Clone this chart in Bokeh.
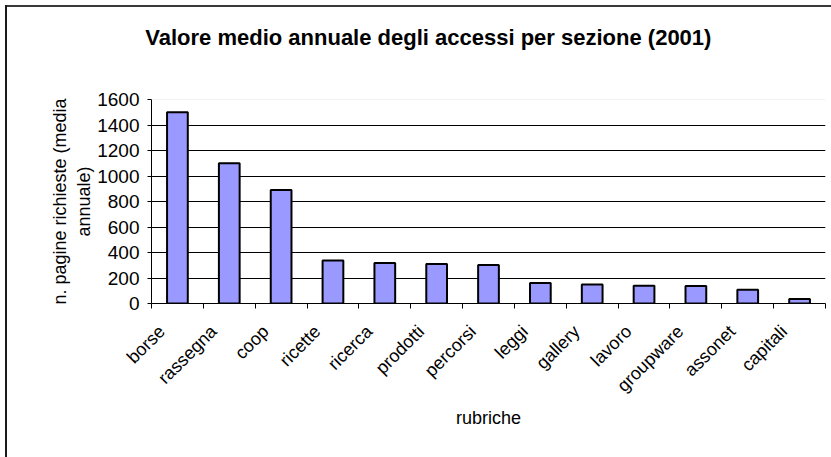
from math import pi
from bokeh.plotting import figure
from bokeh.models import Range1d, FixedTicker, Span, LinearAxis
from bokeh.embed import file_html
from bokeh.resources import INLINE

categories = ["borse", "rassegna", "coop", "ricette", "ricerca", "prodotti", "percorsi",
              "leggi", "gallery", "lavoro", "groupware", "assonet", "capitali"]
values = [1500, 1100, 890, 338, 318, 310, 302, 160, 150, 139, 137, 108, 35]
y_ticks = [0, 200, 400, 600, 800, 1000, 1200, 1400, 1600]

title_text = "Valore medio annuale degli accessi per sezione (2001)"
x_title = "rubriche"
y_title_line1 = "n. pagine richieste (media"
y_title_line2 = "annuale)"

FONT = "Liberation Sans"
n = len(categories)
xs = [i + 0.5 for i in range(n)]
title_pos = 5.34   # horizontal centre of the chart title, in category widths

W, H = 831, 457
p = figure(width=W, height=H, output_backend="svg", toolbar_location=None,
           x_range=Range1d(0, n), y_range=Range1d(0, 1600),
           min_border_left=151, min_border_right=6, min_border_top=99, min_border_bottom=154)
p.title.visible = False
p.outline_line_color = None
p.background_fill_color = "white"
p.border_fill_color = None
p.styles = {
    "background-color": "white",
    "background-image": "linear-gradient(#1a1a1a, #1a1a1a), linear-gradient(#3a3a3a, #3a3a3a)",
    "background-size": "2px 100%, 100% 2px",
    "background-position": "5px 5px, 5px 5px",
    "background-repeat": "no-repeat",
}

xax = p.below[0]
yax = p.left[0]

# chart title, drawn in the panel above the plot area
top_ax = LinearAxis(ticker=FixedTicker(ticks=[title_pos]),
                    major_label_overrides={title_pos: title_text})
top_ax.axis_line_color = None
top_ax.major_tick_line_color = None
top_ax.minor_tick_line_color = None
top_ax.major_tick_out = 0
top_ax.major_tick_in = 0
top_ax.minor_tick_out = 0
top_ax.major_label_standoff = 50
top_ax.major_label_text_font = FONT
top_ax.major_label_text_font_size = "22px"
top_ax.major_label_text_font_style = "bold"
top_ax.major_label_text_color = "black"
p.add_layout(top_ax, "above")

p.vbar(x=xs, top=values, width=0.4, fill_color="#9999ff", line_color="black", line_width=2)

# y axis
yax.ticker = FixedTicker(ticks=y_ticks)
yax.axis_line_color = "black"
yax.major_tick_line_color = "black"
yax.major_tick_out = 4
yax.major_tick_in = 0
yax.minor_tick_line_color = None
yax.major_label_text_font = FONT
yax.major_label_text_font_size = "19px"
yax.major_label_text_color = "black"
yax.major_label_standoff = 8
yax.axis_label = y_title_line2
yax.axis_label_text_font = FONT
yax.axis_label_text_font_size = "18px"
yax.axis_label_text_font_style = "normal"
yax.axis_label_text_color = "black"
yax.axis_label_standoff = 0

# outer line of the y-axis title
yax2 = LinearAxis(ticker=FixedTicker(ticks=[]), axis_label=y_title_line1)
yax2.axis_line_color = None
yax2.major_tick_line_color = None
yax2.minor_tick_line_color = None
yax2.major_tick_out = 0
yax2.major_tick_in = 0
yax2.minor_tick_out = 0
yax2.major_label_standoff = 0
yax2.axis_label_text_font = FONT
yax2.axis_label_text_font_size = "18px"
yax2.axis_label_text_font_style = "normal"
yax2.axis_label_text_color = "black"
yax2.axis_label_standoff = 2
p.add_layout(yax2, "left")

# x axis: labels near centres, ticks at category boundaries
lab_off = -0.3
xax.ticker = FixedTicker(ticks=[x + lab_off for x in xs], minor_ticks=list(range(n + 1)))
xax.major_label_overrides = {x + lab_off: c for x, c in zip(xs, categories)}
xax.major_label_orientation = pi / 4
xax.axis_line_color = "black"
xax.major_tick_line_color = None
xax.major_tick_out = 0
xax.major_tick_in = 0
xax.minor_tick_line_color = "black"
xax.minor_tick_out = 5
xax.minor_tick_in = 0
xax.major_label_text_font = FONT
xax.major_label_text_font_size = "18px"
xax.major_label_text_color = "black"
xax.major_label_standoff = 20
xax.axis_label = x_title
xax.axis_label_text_font = FONT
xax.axis_label_text_font_size = "18px"
xax.axis_label_text_font_style = "normal"
xax.axis_label_text_color = "black"
xax.axis_label_standoff = 2

p.xgrid.visible = False
p.ygrid.ticker = FixedTicker(ticks=y_ticks[1:-1])
p.ygrid.grid_line_color = "black"
p.ygrid.grid_line_width = 1
p.add_layout(Span(location=1600, dimension="width", line_color="#e6e6e6", line_width=1))

open("out.html", "w").write(file_html(p, INLINE))
